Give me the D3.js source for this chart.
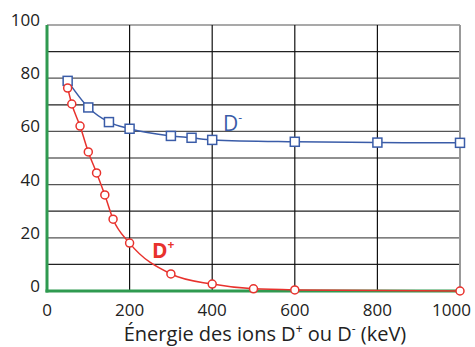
<!DOCTYPE html>
<html lang="fr">
  <head>
    <meta charset="UTF-8" />
    <title>Énergie des ions D+ / D-</title>
    <script src="https://d3js.org/d3.v7.min.js"></script>
    <style>
      body { margin: 0; background: #fff; }
      text { font-family: "Open Sans", "Noto Sans", sans-serif; }
    </style>
  </head>
  <body>
    <svg width="475" height="347"></svg>
    <script>
      // energies (keV) and efficiency values
      const energyMinus = [50, 100, 150, 200, 300, 350, 400, 600, 800, 1000];
      const valueMinus = [79, 69, 63.5, 61, 58.3, 57.6, 56.8, 56.1, 55.8, 55.7];
      const energyPlus = [50, 60, 80, 100, 120, 140, 160, 200, 300, 400, 500, 600, 1000];
      const valuePlus = [76.3, 70.3, 62, 52.3, 44.4, 36.1, 27, 18, 6.4, 2.6, 0.8, 0.4, 0];
      const xTicks = [0, 200, 400, 600, 800, 1000];
      const yTicks = [0, 20, 40, 60, 80, 100];
      const yGrid = d3.range(10, 101, 10);

      const svg = d3.select("svg");
      const x = d3.scaleLinear().domain([0, 1000]).range([47, 460]);
      const y = d3.scaleLinear().domain([0, 100]).range([291, 25]);

      const blue = "#3a5ca8";
      const red = "#e8322d";
      const green = "#2f9a50";

      // grid
      svg.append("g")
        .selectAll("line")
        .data(yGrid)
        .enter()
        .append("line")
        .attr("x1", x(0)).attr("x2", x(1000))
        .attr("y1", d => y(d)).attr("y2", d => y(d))
        .attr("stroke", d => (d % 20 === 0 ? "#555" : "#222"))
        .attr("stroke-width", 1.2);

      svg.append("g")
        .selectAll("line")
        .data(xTicks.slice(1))
        .enter()
        .append("line")
        .attr("x1", d => x(d)).attr("x2", d => x(d))
        .attr("y1", y(0)).attr("y2", y(100))
        .attr("stroke", d => (d === 1000 ? "#999" : "#111"))
        .attr("stroke-width", d => (d === 1000 ? 2 : 1.2));

      // green axes
      svg.append("line")
        .attr("x1", x(0)).attr("x2", x(0))
        .attr("y1", y(0) + 1.5).attr("y2", y(100))
        .attr("stroke", green).attr("stroke-width", 3);
      svg.append("line")
        .attr("x1", x(0) - 1.5).attr("x2", x(1000))
        .attr("y1", y(0)).attr("y2", y(0))
        .attr("stroke", green).attr("stroke-width", 3);

      // tick labels
      svg.append("g")
        .selectAll("text")
        .data(yTicks)
        .enter()
        .append("text")
        .attr("x", 40)
        .attr("y", d => y(d) + 1)
        .attr("text-anchor", "end")
        .attr("font-size", 17)
        .attr("fill", "#222")
        .text(d => d);

      svg.append("g")
        .selectAll("text")
        .data(xTicks)
        .enter()
        .append("text")
        .attr("x", d => (d === 1000 ? x(d) + 11 : x(d)))
        .attr("y", 316)
        .attr("text-anchor", d => (d === 1000 ? "end" : "middle"))
        .attr("font-size", 17)
        .attr("fill", "#222")
        .text(d => d);

      // axis title
      const title = svg.append("text")
        .attr("x", 265)
        .attr("y", 341)
        .attr("text-anchor", "middle")
        .attr("font-size", 20)
        .attr("fill", "#222");
      title.append("tspan").text("Énergie des ions D");
      title.append("tspan").attr("font-size", 12).attr("dy", -8).text("+");
      title.append("tspan").attr("dy", 8).text(" ou D");
      title.append("tspan").attr("font-size", 12).attr("dy", -8).text("-");
      title.append("tspan").attr("dy", 8).text(" (keV)");

      const line = d3.line()
        .x(d => x(d[0]))
        .y(d => y(d[1]))
        .curve(d3.curveMonotoneX);

      const minus = d3.zip(energyMinus, valueMinus);
      const plus = d3.zip(energyPlus, valuePlus);

      svg.append("path")
        .attr("d", line(minus))
        .attr("fill", "none")
        .attr("stroke", blue)
        .attr("stroke-width", 1.5);

      svg.append("path")
        .attr("d", line(plus))
        .attr("fill", "none")
        .attr("stroke", red)
        .attr("stroke-width", 1.5);

      svg.append("g")
        .selectAll("rect")
        .data(minus)
        .enter()
        .append("rect")
        .attr("x", d => x(d[0]) - 4.5)
        .attr("y", d => y(d[1]) - 4.5)
        .attr("width", 9)
        .attr("height", 9)
        .attr("fill", "#fff")
        .attr("stroke", blue)
        .attr("stroke-width", 1.5);

      svg.append("g")
        .selectAll("circle")
        .data(plus)
        .enter()
        .append("circle")
        .attr("cx", d => x(d[0]))
        .attr("cy", d => y(d[1]))
        .attr("r", 4)
        .attr("fill", "#fff")
        .attr("stroke", red)
        .attr("stroke-width", 1.5);

      // series labels
      const lm = svg.append("text")
        .attr("x", 223).attr("y", 131)
        .attr("font-size", 21).attr("fill", blue);
      lm.append("tspan").text("D");
      lm.append("tspan").attr("font-size", 12).attr("dy", -9).text("-");

      const lp = svg.append("text")
        .attr("x", 152).attr("y", 258)
        .attr("font-size", 21).attr("font-weight", "bold").attr("fill", red);
      lp.append("tspan").text("D");
      lp.append("tspan").attr("font-size", 12).attr("dy", -9).text("+");
    </script>
  </body>
</html>
